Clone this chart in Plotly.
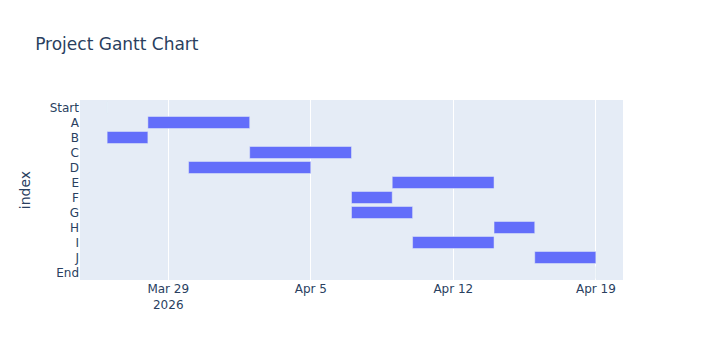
import pandas as pd
import plotly.express as px

tasks = ["Start", "A", "B", "C", "D", "E", "F", "G", "H", "I", "J", "End"]
starts = ["2026-03-26", "2026-03-28", "2026-03-26", "2026-04-02", "2026-03-30", "2026-04-09",
          "2026-04-07", "2026-04-07", "2026-04-14", "2026-04-10", "2026-04-16", "2026-04-19"]
finishes = ["2026-03-26", "2026-04-02", "2026-03-28", "2026-04-07", "2026-04-05", "2026-04-14",
            "2026-04-09", "2026-04-10", "2026-04-16", "2026-04-14", "2026-04-19", "2026-04-19"]

df = pd.DataFrame({"index": tasks, "start": pd.to_datetime(starts), "finish": pd.to_datetime(finishes)})

fig = px.timeline(df, x_start="start", x_end="finish", y="index", title="Project Gantt Chart")
fig.update_yaxes(autorange="reversed", title_text="index")
fig.update_layout(width=703, height=360, font_family="DejaVu Sans")
fig.write_html("out.html")
